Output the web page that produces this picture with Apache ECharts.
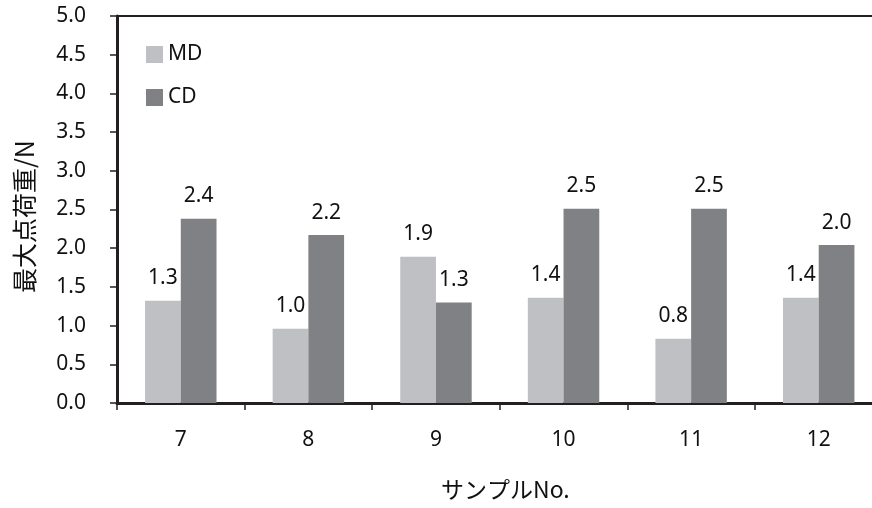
<!DOCTYPE html>
<html>
<head>
<meta charset="utf-8">
<script src="https://cdn.jsdelivr.net/npm/echarts@6/dist/echarts.min.js"></script>
<style>
  html, body { margin: 0; padding: 0; background: #fff; }
  #chart { width: 872px; height: 508px; }
</style>
</head>
<body>
<div id="chart"></div>
<script>
// Sample numbers and measured maximum load (N) in MD / CD directions
const categories = ['7', '8', '9', '10', '11', '12'];
const seriesNames = ['MD', 'CD'];
const mdValues = [1.32, 0.96, 1.89, 1.36, 0.83, 1.36];
const cdValues = [2.38, 2.17, 1.30, 2.51, 2.51, 2.04];
const yTicks = { min: 0, max: 5, interval: 0.5 };
const yAxisTitle = '最大点荷重/N';
const xAxisTitle = 'サンプルNo.';

const LATIN = '"Noto Sans", "Open Sans", sans-serif';
const CJK = '"Noto Sans CJK JP", "Noto Sans", sans-serif';
const AXIS_COLOR = '#231f20';
const TEXT_COLOR = '#111';

const chart = echarts.init(document.getElementById('chart'), null, { renderer: 'canvas' });

const barLabel = {
  show: true,
  position: 'top',
  distance: 12,
  color: TEXT_COLOR,
  fontFamily: LATIN,
  fontSize: 21,
  formatter: p => p.value.toFixed(1)
};

chart.setOption({
  backgroundColor: '#fff',
  animation: false,
  grid: {
    left: 117, top: 16, bottom: 105, right: -10.5,
    containLabel: false,
    outerBoundsMode: 'none',
    show: true,
    borderColor: AXIS_COLOR,
    borderWidth: 2,
    backgroundColor: 'transparent'
  },
  legend: {
    orient: 'vertical',
    left: 146, top: 44,
    padding: 0,
    itemWidth: 17, itemHeight: 17,
    itemGap: 22,
    icon: 'rect',
    textStyle: { fontFamily: LATIN, fontSize: 21, color: TEXT_COLOR },
    data: seriesNames
  },
  xAxis: {
    type: 'category',
    data: categories,
    boundaryGap: true,
    axisLine: { lineStyle: { color: AXIS_COLOR, width: 3 } },
    axisTick: { show: true, length: 7, lineStyle: { color: AXIS_COLOR, width: 1.5 } },
    axisLabel: { margin: 27, fontFamily: LATIN, fontSize: 21, color: TEXT_COLOR },
    splitLine: { show: false }
  },
  yAxis: {
    type: 'value',
    min: yTicks.min, max: yTicks.max, interval: yTicks.interval,
    name: yAxisTitle,
    nameLocation: 'middle',
    nameRotate: 90,
    nameGap: 80,
    nameTextStyle: { fontFamily: CJK, fontSize: 25, color: TEXT_COLOR, padding: [0, 0, 0, -14] },
    axisLine: { show: true, lineStyle: { color: AXIS_COLOR, width: 3 } },
    axisTick: { show: true, length: 7, lineStyle: { color: AXIS_COLOR, width: 1.5 } },
    axisLabel: {
      margin: 31, fontFamily: LATIN, fontSize: 21, color: TEXT_COLOR,
      padding: [7, 0, 0, 0],
      formatter: v => v.toFixed(1)
    },
    splitLine: { show: false }
  },
  graphic: [{
    type: 'text',
    left: 441, top: 478,
    style: { text: xAxisTitle, font: '23px ' + CJK, fill: TEXT_COLOR }
  }],
  series: [
    {
      name: seriesNames[0], type: 'bar', data: mdValues,
      barWidth: '28%', barGap: '0%',
      itemStyle: { color: '#bfc0c3' },
      label: barLabel
    },
    {
      name: seriesNames[1], type: 'bar', data: cdValues,
      barWidth: '28%', barGap: '0%',
      itemStyle: { color: '#808185' },
      label: barLabel
    }
  ]
});
</script>
</body>
</html>
